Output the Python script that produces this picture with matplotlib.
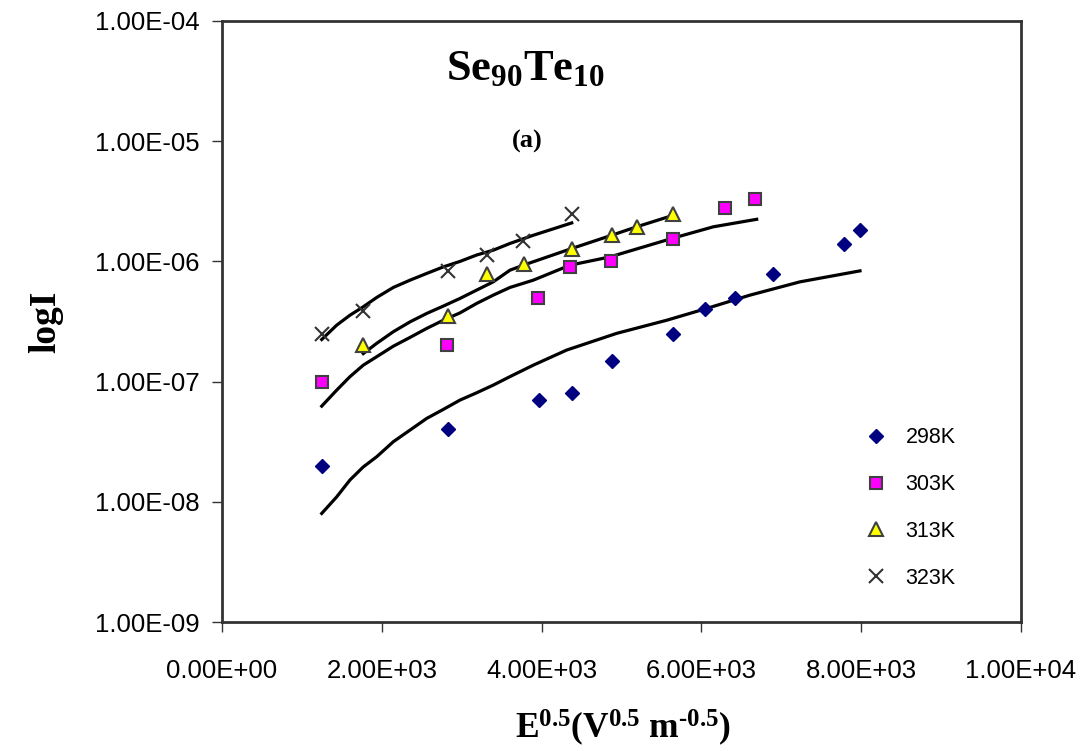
import matplotlib
matplotlib.use("Agg")
import matplotlib.pyplot as plt
from matplotlib.ticker import FixedLocator, FuncFormatter
from matplotlib.lines import Line2D

plt.rcParams["font.family"] = ["Liberation Sans", "DejaVu Sans"]
plt.rcParams["mathtext.fontset"] = "custom"
plt.rcParams["mathtext.rm"] = "Liberation Serif"
plt.rcParams["mathtext.bf"] = "Liberation Serif:bold"
plt.rcParams["mathtext.it"] = "Liberation Serif:italic"

# measured points
x_298 = [1250, 2830, 3970, 4380, 4880, 5650, 6050, 6420, 6900, 7780, 7980]
y_298 = [2.0e-8, 4.0e-8, 7.0e-8, 8.0e-8, 1.47e-7, 2.5e-7, 4.0e-7, 5.0e-7, 7.9e-7, 1.4e-6, 1.83e-6]

x_303 = [1250, 2810, 3960, 4360, 4870, 5640, 6290, 6670]
y_303 = [1.0e-7, 2.0e-7, 5.0e-7, 9.0e-7, 1.0e-6, 1.54e-6, 2.8e-6, 3.3e-6]

x_313 = [1770, 2830, 3320, 3780, 4380, 4880, 5200, 5650]
y_313 = [2.0e-7, 3.5e-7, 7.9e-7, 9.5e-7, 1.27e-6, 1.67e-6, 1.95e-6, 2.48e-6]

x_323 = [1250, 1770, 2830, 3320, 3770, 4380]
y_323 = [2.5e-7, 3.9e-7, 8.4e-7, 1.12e-6, 1.49e-6, 2.48e-6]

# fitted curves
fx_298 = [1248, 1436, 1602, 1768, 1936, 2144, 2353, 2562, 2770, 2979, 3187, 3395,
          3604, 3896, 4314, 4940, 5566, 6066, 6608, 7234, 7985]
fy_298 = [8.0e-9, 1.1e-8, 1.52e-8, 1.95e-8, 2.37e-8, 3.16e-8, 3.95e-8, 4.94e-8, 5.87e-8,
          7.02e-8, 8.07e-8, 9.35e-8, 1.1e-7, 1.37e-7, 1.83e-7, 2.52e-7, 3.24e-7, 4.06e-7,
          5.24e-7, 6.76e-7, 8.34e-7]

fx_303 = [1248, 1436, 1602, 1768, 1936, 2144, 2353, 2562, 2770, 2979, 3187, 3395,
          3604, 3896, 4355, 4856, 5628, 6149, 6692]
fy_303 = [6.25e-8, 8.5e-8, 1.1e-7, 1.37e-7, 1.61e-7, 1.97e-7, 2.33e-7, 2.77e-7, 3.24e-7,
          3.73e-7, 4.47e-7, 5.24e-7, 6.07e-7, 6.98e-7, 9.3e-7, 1.09e-6, 1.55e-6, 1.94e-6,
          2.24e-6]

fx_313 = [1768, 1936, 2144, 2353, 2562, 2770, 2979, 3187, 3395, 3604, 3771, 4377,
          4877, 5190, 5648]
fy_313 = [1.71e-7, 2.08e-7, 2.6e-7, 3.14e-7, 3.69e-7, 4.25e-7, 4.92e-7, 5.77e-7, 6.76e-7,
          8.45e-7, 9.3e-7, 1.28e-6, 1.65e-6, 1.94e-6, 2.42e-6]

fx_323 = [1248, 1436, 1602, 1768, 1936, 2144, 2353, 2562, 2770, 2979, 3187, 3395,
          3604, 3896, 4377]
fy_323 = [2.24e-7, 2.95e-7, 3.57e-7, 4.19e-7, 5.01e-7, 6.07e-7, 6.98e-7, 7.94e-7, 9.0e-7,
          1.0e-6, 1.13e-6, 1.24e-6, 1.41e-6, 1.65e-6, 2.09e-6]

x_ticks = [0, 2000, 4000, 6000, 8000, 10000]
y_ticks = [1e-9, 1e-8, 1e-7, 1e-6, 1e-5, 1e-4]
labels = ["298K", "303K", "313K", "323K"]

fig = plt.figure(figsize=(10.84, 7.51), dpi=100)
ax = fig.add_axes([222 / 1084, 1 - 622 / 751, 799 / 1084, 601 / 751])

for fx, fy in [(fx_298, fy_298), (fx_303, fy_303), (fx_313, fy_313), (fx_323, fy_323)]:
    ax.plot(fx, fy, color="black", lw=2.3, solid_joinstyle="round", zorder=2)

edge = "#404040"
ax.plot(x_298, y_298, "D", ms=7.5, color="#000080", mec="#000080", ls="none", zorder=3)
ax.plot(x_303, y_303, "s", ms=8.5, color="#ff00ff", mec=edge, mew=1.5, ls="none", zorder=3)
ax.plot(x_313, y_313, "^", ms=10, color="#ffff00", mec=edge, mew=1.5, ls="none", zorder=3)
ax.plot(x_323, y_323, "x", ms=10, color="#333333", mew=1.5, ls="none", zorder=3)

ax.set_yscale("log")
ax.set_xlim(0, 10000)
ax.set_ylim(1e-9, 1e-4)
ax.xaxis.set_major_locator(FixedLocator(x_ticks))
ax.yaxis.set_major_locator(FixedLocator(y_ticks))
ax.yaxis.set_minor_locator(FixedLocator([]))
fmt = FuncFormatter(lambda v, p: f"{v:.2E}")
ax.xaxis.set_major_formatter(fmt)
ax.yaxis.set_major_formatter(fmt)
ax.tick_params(axis="both", labelsize=18.5, length=7, width=1, color="#333333")
ax.tick_params(axis="x", pad=20)
ax.tick_params(axis="y", pad=9)
for s in ax.spines.values():
    s.set_linewidth(2)
    s.set_color("#333333")

handles = [
    Line2D([], [], marker="D", ms=7.5, color="#000080", ls="none"),
    Line2D([], [], marker="s", ms=8.5, color="#ff00ff", mec=edge, mew=1.5, ls="none"),
    Line2D([], [], marker="^", ms=10, color="#ffff00", mec=edge, mew=1.5, ls="none"),
    Line2D([], [], marker="x", ms=10, color="#333333", mew=1.5, ls="none"),
]
ax.legend(handles, labels, loc="upper left", bbox_to_anchor=(0.791, 0.342),
          frameon=False, fontsize=15.5, borderpad=0, handlelength=1.0,
          handletextpad=0.9, labelspacing=1.2)

fig.text(525 / 1084, 1 - 68 / 751, r"$\mathbf{Se_{90}Te_{10}}$", fontsize=32,
         ha="center", va="center")
fig.text(527 / 1084, 1 - 141 / 751, "(a)", fontsize=19, fontweight="bold",
         family="Liberation Serif", ha="center", va="center")
fig.text(46 / 1084, 1 - 322 / 751, "logI", fontsize=27, fontweight="bold",
         family="Liberation Serif", rotation=90, ha="center", va="center")
fig.text(623 / 1084, 1 - 728 / 751, "$\\mathbf{E^{0.5}(V^{0.5}\\ m^{\u20100.5})}$",
         fontsize=25.5, ha="center", va="center")

fig.savefig("out.png", dpi=100)
